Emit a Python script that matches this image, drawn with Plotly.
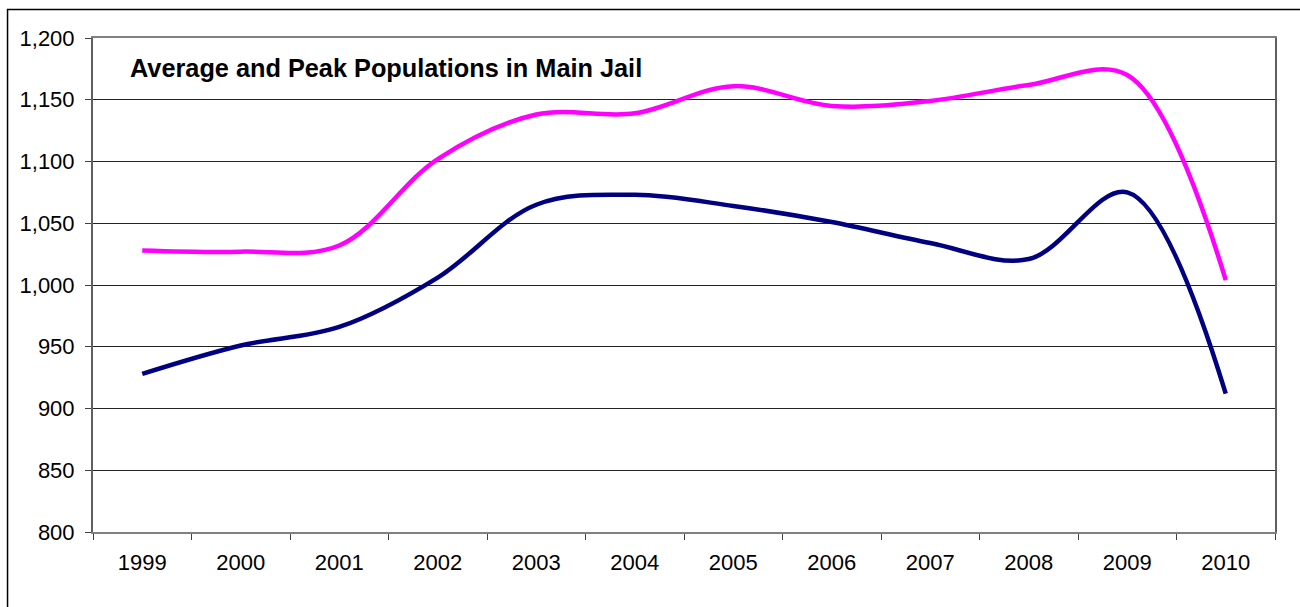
import plotly.graph_objects as go

years = ["1999", "2000", "2001", "2002", "2003", "2004", "2005", "2006", "2007", "2008", "2009", "2010"]
peak = [1028, 1027, 1032, 1102, 1138, 1139, 1161, 1145, 1149, 1162, 1170, 1004]
average = [928, 951, 966, 1006, 1065, 1073, 1064, 1051, 1034, 1021, 1075, 912]
y_ticks = [800, 850, 900, 950, 1000, 1050, 1100, 1150, 1200]
y_tick_labels = ["800", "850", "900", "950", "1,000", "1,050", "1,100", "1,150", "1,200"]
title_text = "Average and Peak Populations in Main Jail"

fig = go.Figure()
fig.add_trace(go.Scatter(x=years, y=peak, mode="lines", name="Peak",
                         line=dict(color="#FF00FF", width=4.5, shape="spline", smoothing=1.0)))
fig.add_trace(go.Scatter(x=years, y=average, mode="lines", name="Average",
                         line=dict(color="#000080", width=4.5, shape="spline", smoothing=1.0)))

font_family = "Liberation Sans, Arial, sans-serif"
fig.update_layout(
    width=1300, height=607,
    margin=dict(l=93, r=25, t=38, b=75),
    paper_bgcolor="white", plot_bgcolor="white",
    showlegend=False,
    font=dict(family=font_family, size=22, color="black"),
    xaxis=dict(type="category", range=[-0.5, 11.5], tickson="boundaries",
               ticks="outside", ticklen=6, tickcolor="#404040",
               showgrid=False, showline=True, linecolor="#808080", linewidth=2, mirror=True,
               tickfont=dict(size=22), ticklabelstandoff=10),
    yaxis=dict(range=[800, 1200], tickvals=y_ticks, ticktext=y_tick_labels,
               ticks="outside", ticklen=6, tickcolor="#404040",
               showgrid=True, gridcolor="#222222", gridwidth=1,
               showline=True, linecolor="#606060", linewidth=2, mirror=True,
               zeroline=False, tickfont=dict(size=22), ticklabelstandoff=6),
    annotations=[dict(text="<b>" + title_text + "</b>", xref="paper", yref="paper",
                      x=0.0295, y=0.939, xanchor="left", yanchor="middle",
                      showarrow=False, font=dict(size=25.3, color="black", family=font_family))],
    shapes=[dict(type="rect", xref="paper", yref="paper", x0=-0.0723, y0=-0.2, x1=1.04, y1=1.0577,
                 line=dict(color="black", width=1.5), layer="below")],
)
fig.write_html("out.html", config={"displayModeBar": False},
               post_script="document.body.style.margin='0';document.body.style.overflow='hidden';")
